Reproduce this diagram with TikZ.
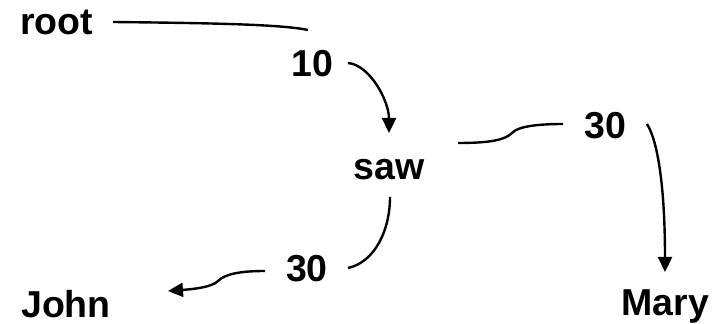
\documentclass[tikz,border=0pt]{standalone}
\usepackage{fontspec}
\setmainfont{Liberation Sans}
\usetikzlibrary{arrows.meta}
\tikzset{
  lbl/.style={font=\fontsize{18.75}{20}\selectfont\bfseries, inner sep=0pt, anchor=base},
  edge/.style={draw=black, line width=1.2pt},
  arr/.style={edge, -{Triangle[length=7.5pt,width=7pt]}}
}
\begin{document}
\begin{tikzpicture}[x=0.5pt,y=-0.5pt]
\useasboundingbox (0,0) rectangle (721,324);
\node[lbl] (root) at (56.5,35) {root};
\node[lbl] (n10) at (312.5,77) {10};
\node[lbl] (saw) at (389,180) {saw};
\node[lbl] (n30r) at (605,139) {30};
\node[lbl] (n30b) at (307,282) {30};
\node[lbl] (john) at (66,318) {John};
\node[lbl] (mary) at (665.5,316) {Mary};
% root -> 10
\draw[edge] ([shift={(56.5,-13)}]root.base) .. controls +(87,1) and +(-28,-6) .. ([shift={(-4.5,-47)}]n10.base);
% 10 -> saw
\draw[arr] ([shift={(35.5,-14)}]n10.base) .. controls +(22,2) and +(0,-32) .. ([shift={(0,-47)}]saw.base);
% saw -> 30 right
\draw[edge] ([shift={(69,-37)}]saw.base) .. controls +(32,0) and +(-7,7) .. (512,133)
  .. controls +(6,-7) and +(-23,0) .. ([shift={(-42,-15)}]n30r.base);
% 30 right -> Mary
\draw[arr] ([shift={(42,-15)}]n30r.base) .. controls +(13,21) and +(0,-72) .. ([shift={(-0.5,-44)}]mary.base);
% saw -> 30 bottom
\draw[edge] ([shift={(1,17)}]saw.base) .. controls +(0,33) and +(27,-6) .. ([shift={(41,-14)}]n30b.base);
% 30 bottom -> John
\draw[arr] ([shift={(-42,-11)}]n30b.base) .. controls +(-25,0) and +(7,-7) .. (218,281)
  .. controls +(-6,6) and +(27,-2) .. ([shift={(102,-27)}]john.base);
\end{tikzpicture}
\end{document}
